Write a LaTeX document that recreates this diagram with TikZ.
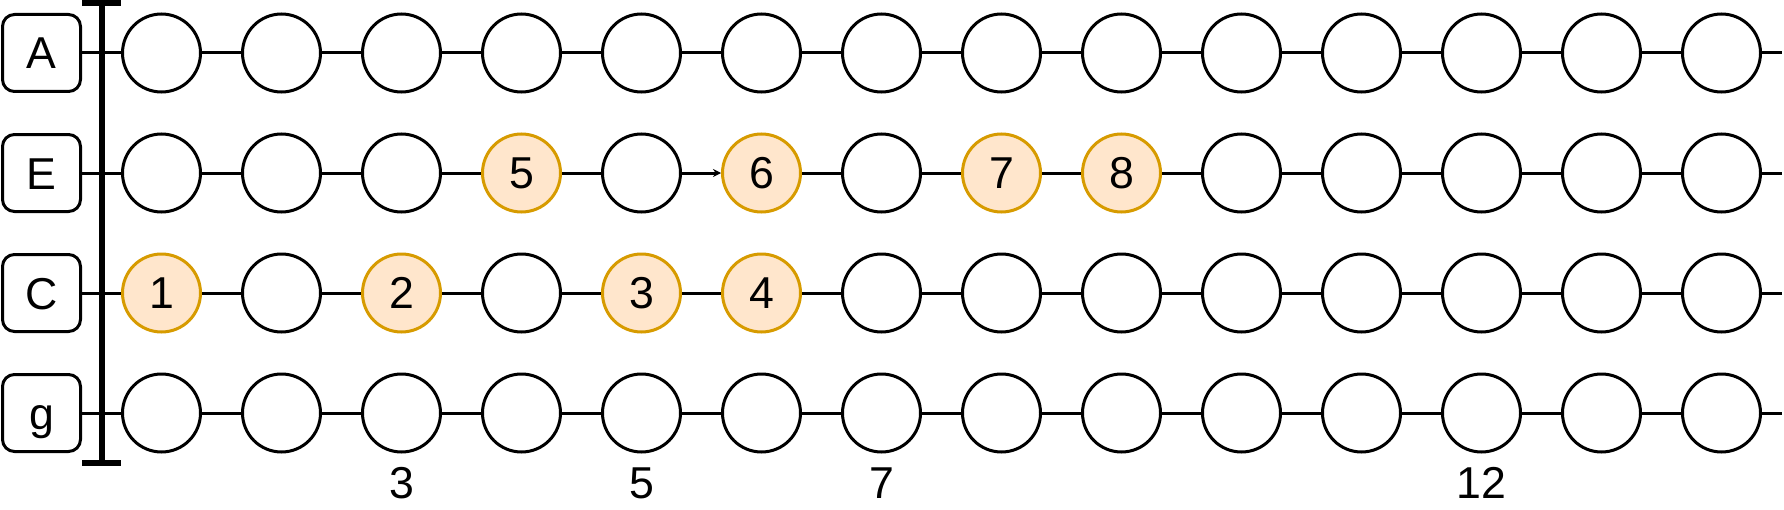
\documentclass[tikz,border=0pt]{standalone}
\usepackage{fontspec}
\setmainfont{Liberation Sans}
\usetikzlibrary{arrows.meta}

\tikzset{
  onC0/.style={note,label=center:1}, onC2/.style={note,label=center:2},
  onC4/.style={note,label=center:3}, onC5/.style={note,label=center:4},
  onE3/.style={note,label=center:5}, onE5/.style={note,label=center:6},
  onE7/.style={note,label=center:7}, onE8/.style={note,label=center:8},
  arrE4/.style={-{Stealth[length=6pt,width=6pt]}},
}

\begin{document}
\begin{tikzpicture}[x=0.75pt,y=0.75pt,yscale=-1,xscale=1,
  font=\fontsize{33.5}{40}\selectfont,
  stringbox/.style={draw,line width=2.25pt,rounded corners=9pt,minimum width=58.5pt,minimum height=57.75pt,inner sep=0pt,text height=24pt,text depth=0pt},
  fret/.style={draw,circle,fill=white,line width=2.25pt,minimum size=58.5pt,inner sep=0pt},
  note/.style={draw={rgb,255:red,215;green,155;blue,0},fill={rgb,255:red,255;green,230;blue,204}},
  wire/.style={line width=2.25pt}]
\useasboundingbox (0,0) rectangle (1784,510);

% String Nodes
\foreach \s/\y in {A/53,E/173,C/293,g/413}{
  \node [stringbox] (\s) at (41.5,\y) {\s};
  \foreach \k in {0,...,13}
    \node [fret,on\s\k/.try] (\s\k) at (161.5+120*\k,\y) {};
  \coordinate (\s end) at (1782,\y);
}

% Connection
\foreach \s in {A,E,C,g}{
  \draw [wire] (\s) -- (\s0);
  \foreach \k [count=\n from 1] in {0,...,12}
    \draw [wire,arr\s\k/.try] (\s\k) -- (\s\n);
  \draw [wire] (\s13) -- (\s end);
}

% Nut
\draw [line width=4.5pt] (82,3) -- (121,3) (101.5,3) -- (101.5,463) (82,463) -- (121,463);

% Text Node
\foreach \k/\t in {2/3,4/5,6/7,11/12}
  \node (mark\t) at (161.5+120*\k,483) {\t};

\end{tikzpicture}
\end{document}
